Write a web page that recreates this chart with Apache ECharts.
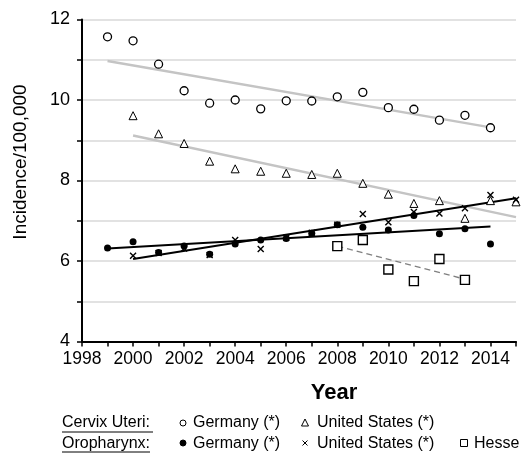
<!DOCTYPE html>
<html>
<head>
<meta charset="utf-8">
<script src="https://cdn.jsdelivr.net/npm/echarts@6/dist/echarts.min.js"></script>
<style>
  html, body { margin: 0; padding: 0; background: #fff; }
  #chart { width: 524px; height: 453px; }
</style>
</head>
<body>
<div id="chart"></div>
<script>
// 数据
const cervixDeYears = [1999, 2000, 2001, 2002, 2003, 2004, 2005, 2006, 2007, 2008, 2009, 2010, 2011, 2012, 2013, 2014]
const cervixDeValues = [11.57, 11.47, 10.89, 10.23, 9.92, 10.0, 9.78, 9.98, 9.975, 10.08, 10.19, 9.81, 9.77, 9.50, 9.62, 9.31]
const cervixDeTrend = [[1999, 10.97], [2014, 9.32]]

const cervixUsYears = [2000, 2001, 2002, 2003, 2004, 2005, 2006, 2007, 2008, 2009, 2010, 2011, 2012, 2013, 2014, 2015]
const cervixUsValues = [9.61, 9.16, 8.92, 8.48, 8.29, 8.23, 8.18, 8.15, 8.18, 7.93, 7.66, 7.43, 7.50, 7.06, 7.50, 7.47]
const cervixUsTrend = [[2000, 9.12], [2015, 7.09]]

const oroDeYears = [1999, 2000, 2001, 2002, 2003, 2004, 2005, 2006, 2007, 2008, 2009, 2010, 2011, 2012, 2013, 2014]
const oroDeValues = [6.32, 6.48, 6.21, 6.37, 6.17, 6.42, 6.52, 6.56, 6.69, 6.90, 6.84, 6.77, 7.13, 6.68, 6.80, 6.42]
const oroDeTrend = [[1999, 6.31], [2014, 6.86]]

const oroUsYears = [2000, 2001, 2002, 2003, 2004, 2005, 2006, 2007, 2008, 2009, 2010, 2011, 2012, 2013, 2014, 2015]
const oroUsValues = [6.13, 6.20, 6.31, 6.15, 6.52, 6.30, 6.58, 6.70, 6.90, 7.17, 6.96, 7.22, 7.18, 7.31, 7.64, 7.52]
const oroUsTrend = [[2000, 6.05], [2015, 7.56]]

const hesseYears = [2008, 2009, 2010, 2011, 2012, 2013]
const hesseValues = [6.37, 6.52, 5.79, 5.50, 6.05, 5.53]
const hesseTrend = [[2008, 6.37], [2013, 5.55]]

const CROSS = 'path://M0,0L10,10M10,0L0,10'
const FONT = '"Liberation Sans", Arial, sans-serif'

function pairs(xs, ys) {
  return xs.map((x, i) => [x, ys[i]])
}

function trendSeries(data, color, width, type) {
  return {
    type: 'line', data, symbol: 'none', silent: true, z: 2,
    lineStyle: { color, width, type: type || 'solid' }
  }
}

function markerSeries(data, symbol, size, fill, borderWidth) {
  return {
    type: 'scatter', data, symbol, symbolSize: size, z: 3,
    itemStyle: { color: fill, borderColor: '#000', borderWidth, opacity: 1 }
  }
}

// 图例：文字 + 小符号
function legendText(x, y, text) {
  return {
    type: 'text', x, y,
    style: { text, font: '16px ' + FONT, fill: '#000', verticalAlign: 'middle' }
  }
}

const legendGraphics = [
  legendText(62, 423, 'Cervix Uteri:'),
  { type: 'line', shape: { x1: 62, y1: 432, x2: 153, y2: 432 }, style: { stroke: '#000', lineWidth: 1 } },
  { type: 'circle', shape: { cx: 183, cy: 423, r: 3 }, style: { fill: '#fff', stroke: '#000', lineWidth: 1 } },
  legendText(193, 423, 'Germany (*)'),
  { type: 'polygon', shape: { points: [[305, 419], [301.5, 426], [308.5, 426]] }, style: { fill: '#fff', stroke: '#000', lineWidth: 1 } },
  legendText(317, 423, 'United States (*)'),

  legendText(62, 444, 'Oropharynx:'),
  { type: 'line', shape: { x1: 62, y1: 452, x2: 150, y2: 452 }, style: { stroke: '#000', lineWidth: 1 } },
  { type: 'circle', shape: { cx: 183, cy: 443, r: 3 }, style: { fill: '#000', stroke: '#000', lineWidth: 1 } },
  legendText(193, 444, 'Germany (*)'),
  { type: 'polyline', shape: { points: [[302.5, 440.5], [307.5, 445.5]] }, style: { stroke: '#000', lineWidth: 1 } },
  { type: 'polyline', shape: { points: [[307.5, 440.5], [302.5, 445.5]] }, style: { stroke: '#000', lineWidth: 1 } },
  legendText(317, 444, 'United States (*)'),
  { type: 'rect', shape: { x: 460.5, y: 439.5, width: 7, height: 7 }, style: { fill: '#fff', stroke: '#000', lineWidth: 1 } },
  legendText(474, 444, 'Hesse'),

  {
    type: 'text', x: 334, y: 393,
    style: { text: 'Year', font: 'bold 22px ' + FONT, fill: '#000', align: 'center', verticalAlign: 'middle' }
  },
  {
    type: 'text', x: 21, y: 162, rotation: Math.PI / 2,
    style: { text: 'Incidence/100,000', font: '19px ' + FONT, fill: '#000', align: 'center', verticalAlign: 'middle' }
  }
]

const chart = echarts.init(document.getElementById('chart'))
chart.setOption({
  animation: false,
  backgroundColor: '#fff',
  textStyle: { fontFamily: FONT },
  grid: { left: 82, right: 8, top: 19.5, bottom: 111.5 },
  xAxis: {
    type: 'value', min: 1998, max: 2015, interval: 1,
    axisLine: { show: true, onZero: false, lineStyle: { color: '#000', width: 2 } },
    axisTick: { show: true, length: 5, lineStyle: { color: '#000', width: 1.5 } },
    splitLine: { show: false },
    axisLabel: {
      color: '#000', fontSize: 17.5, margin: 9, fontFamily: FONT,
      formatter: v => (v % 2 === 0 ? String(v) : '')
    }
  },
  yAxis: {
    type: 'value', min: 4, max: 12, interval: 1,
    axisLine: { show: true, lineStyle: { color: '#000', width: 2 } },
    axisTick: { show: true, length: 5, lineStyle: { color: '#000', width: 1.5 } },
    splitLine: { show: true, lineStyle: { color: '#d9d9d9', width: 1.5 } },
    axisLabel: {
      color: '#000', fontSize: 18, margin: 12, fontFamily: FONT,
      formatter: v => (v % 2 === 0 ? String(v) : '')
    }
  },
  series: [
    trendSeries(cervixDeTrend, '#c4c4c4', 2.5),
    trendSeries(cervixUsTrend, '#c4c4c4', 2.5),
    trendSeries(hesseTrend, '#808080', 1.5, [6, 4]),
    trendSeries(oroDeTrend, '#000', 2),
    trendSeries(oroUsTrend, '#000', 2),
    markerSeries(pairs(cervixDeYears, cervixDeValues), 'circle', 8, '#fff', 1.3),
    markerSeries(pairs(cervixUsYears, cervixUsValues), 'triangle', 8, '#fff', 1),
    markerSeries(pairs(hesseYears, hesseValues), 'rect', 9, '#fff', 1.4),
    markerSeries(pairs(oroUsYears, oroUsValues), CROSS, 6, 'none', 1.4),
    markerSeries(pairs(oroDeYears, oroDeValues), 'circle', 7, '#000', 0)
  ],
  graphic: legendGraphics
})
</script>
</body>
</html>
